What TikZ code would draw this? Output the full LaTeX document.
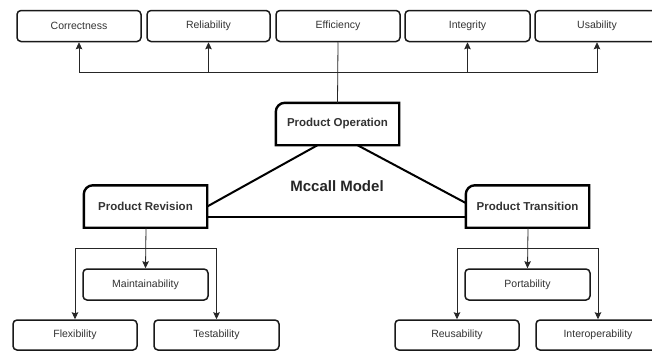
\documentclass[tikz,border=0pt]{standalone}
\usepackage{fontspec}
\setmainfont{Liberation Sans}
\usetikzlibrary{arrows.meta}
\definecolor{txt}{HTML}{333333}
\begin{document}
\begin{tikzpicture}[x=1pt,y=-1pt,
  qbox/.style={draw=black!90, line width=1.5pt, rounded corners=4pt, minimum height=31pt,
    font=\fontsize{10.5}{12}\selectfont, text=txt, inner sep=0pt},
  pbox/.style={minimum width=123pt, minimum height=42pt, inner sep=0pt,
    font=\fontsize{11.5}{13}\selectfont\bfseries, text=txt},
  pline/.style={line width=2.4pt, line join=miter},
  tri/.style={line width=2pt},
  conn/.style={draw=black!85, line width=0.8pt, -{Stealth[length=7pt,width=6.5pt,inset=1pt]}},
  line/.style={draw=black!85, line width=0.8pt}
]
\clip (0,0) rectangle (652,351);
\fill[white] (0,0) rectangle (652,351);

% top row
\node[qbox, minimum width=124pt] (cor) at (79,26) {Correctness};
\node[qbox, minimum width=123pt] (rel) at (208.5,26) {Reliability};
\node[qbox, minimum width=124pt] (eff) at (338,26) {Efficiency};
\node[qbox, minimum width=125pt] (int) at (467.5,26) {Integrity};
\node[qbox, minimum width=124pt] (usa) at (597,26) {Usability};

% product nodes
\node[pbox] (op) at (337.5,124) {Product Operation};
\node[pbox] (rev) at (145.5,206.5) {Product Revision};
\node[pbox] (tra) at (527.5,206.5) {Product Transition};
\foreach \n in {op,rev,tra}{
  \draw[pline] (\n.south west) -- ([yshift=-9pt]\n.north west)
     arc[start angle=180, end angle=90, radius=9pt] -- (\n.north east) -- (\n.south east) -- cycle;
}
\node[font=\fontsize{15}{17}\selectfont\bfseries, text=black!85] (mc) at (337,186) {Mccall Model};

% triangle
\coordinate (opl) at ([xshift=-20pt]op.south);
\coordinate (opr) at ([xshift=20pt]op.south);
\draw[tri] (opl) -- (rev.east);
\draw[tri] (opr) -- ([yshift=3.5pt]tra.west);
\draw[tri] ([yshift=-10.5pt]rev.east) -- ([yshift=-10.5pt]tra.west);

% top connectors
\coordinate (hub) at (338,72);
\draw[line] (op.north) -- (eff.south);
\draw[conn] (hub) -| (cor.south);
\draw[conn] (hub) -| (rel.south);
\draw[conn] (hub) -| (int.south);
\draw[conn] (hub) -| (usa.south);

% bottom left
\node[qbox, minimum width=125pt] (mai) at (145.5,284.5) {Maintainability};
\node[qbox, minimum width=124pt, minimum height=30pt] (fle) at (75,335) {Flexibility};
\node[qbox, minimum width=125pt, minimum height=30pt] (tes) at (216.5,335) {Testability};
\coordinate (rj) at (146,248);
\draw[conn] ([xshift=0.5pt]rev.south) -- (mai.north);
\draw[conn] (rj) -| (fle.north);
\draw[conn] (rj) -| (tes.north);

% bottom right
\node[qbox, minimum width=125pt] (por) at (527.5,284.5) {Portability};
\node[qbox, minimum width=124pt, minimum height=30pt] (reu) at (457,335) {Reusability};
\node[qbox, minimum width=124pt, minimum height=30pt] (iop) at (598,335) {Interoperability};
\coordinate (tj) at (528,248);
\draw[conn] ([xshift=0.5pt]tra.south) -- (por.north);
\draw[conn] (tj) -| (reu.north);
\draw[conn] (tj) -| (iop.north);
\end{tikzpicture}
\end{document}
